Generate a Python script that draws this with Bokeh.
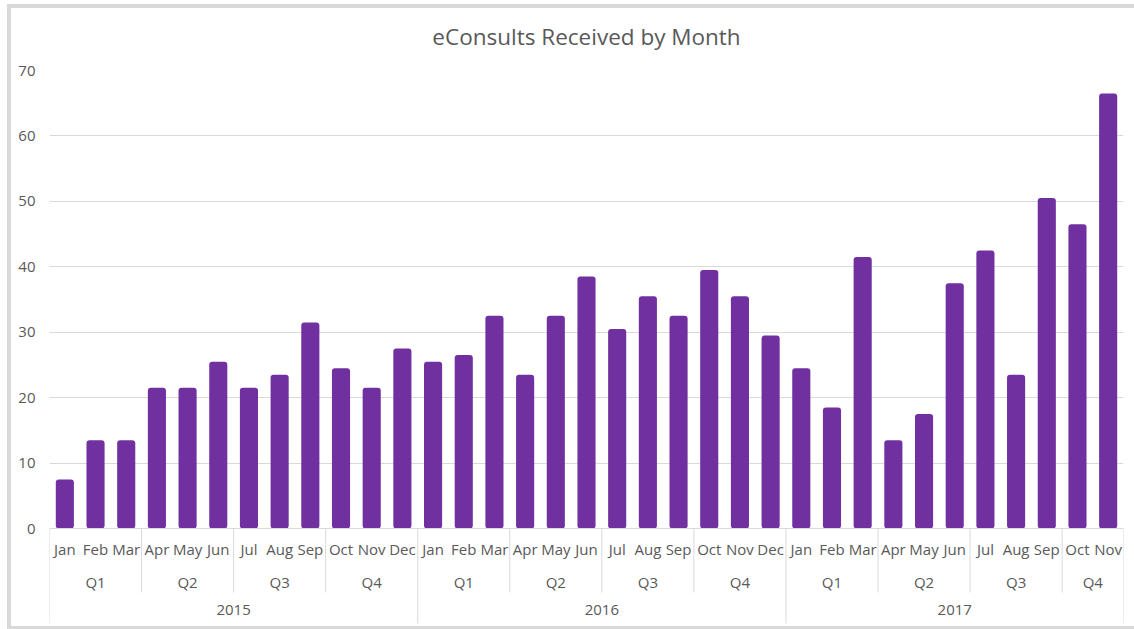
from bokeh.plotting import figure
from bokeh.models import FactorRange, Range1d, FixedTicker, Title
from bokeh.embed import file_html
from bokeh.resources import INLINE

title_text = "eConsults Received by Month"
years = ["2015", "2016", "2017"]
months = ["Jan", "Feb", "Mar", "Apr", "May", "Jun",
          "Jul", "Aug", "Sep", "Oct", "Nov", "Dec"]
quarter_of_month = ["Q1", "Q1", "Q1", "Q2", "Q2", "Q2",
                    "Q3", "Q3", "Q3", "Q4", "Q4", "Q4"]
values_2015 = [7.5, 13.5, 13.5, 21.5, 21.5, 25.5, 21.5, 23.5, 31.5, 24.5, 21.5, 27.5]
values_2016 = [25.5, 26.5, 32.5, 23.5, 32.5, 38.5, 30.5, 35.5, 32.5, 39.5, 35.5, 29.5]
values_2017 = [24.5, 18.5, 41.5, 13.5, 17.5, 37.5, 42.5, 23.5, 50.5, 46.5, 66.5]
y_ticks = [0, 10, 20, 30, 40, 50, 60, 70]

BAR = "#7030A0"
GRID = "#D9D9D9"
TEXT = "#595959"
FONT = "Open Sans"

PLOT_H = 458          # pixels from value 0 to value 70
LABEL_H = 98          # pixels of the category-label band below the axis
Y_MAX = 70
px_to_data = Y_MAX / PLOT_H

factors = []
values = []
for yr, vals in zip(years, [values_2015, values_2016, values_2017]):
    for i, v in enumerate(vals):
        factors.append((yr, quarter_of_month[i], months[i]))
        values.append(v)

x_range = FactorRange(*factors, factor_padding=0, subgroup_padding=0,
                      group_padding=0, range_padding=0)

p = figure(x_range=x_range, y_range=Range1d(-LABEL_H * px_to_data, Y_MAX),
           frame_width=1074, frame_height=PLOT_H + LABEL_H,
           min_border_left=38, min_border_right=11,
           min_border_top=62, min_border_bottom=0,
           output_backend="svg", toolbar_location=None,
           title=None)
p.styles = {"border-left": "4px solid #D9D9D9",
            "border-top": "4px solid #D9D9D9",
            "border-bottom": "3px solid #D9D9D9",
            "margin-left": "7px", "margin-top": "4px"}

# invisible spacer between the frame and the title
p.add_layout(Title(text=" ", text_font=FONT, text_font_size="10px",
                   standoff=3), "above")
p.add_layout(Title(text=title_text, align="center", vertical_align="bottom",
                   text_font=FONT, text_font_size="22.5px",
                   text_font_style="normal", text_color=TEXT, standoff=0),
             "above")

p.vbar(x=factors, top=values, width=0.59, fill_color=BAR, line_color=None,
       border_radius=3)

# separator lines below the axis (quarter and year boundaries)
sep_x, sep_y1 = [], []
for i, f in enumerate(factors + [None]):
    prev = factors[i - 1] if i > 0 else None
    if prev is None or f is None or f[0] != prev[0]:
        sep_x.append(i)
        sep_y1.append(-95 * px_to_data)
    elif f[1] != prev[1]:
        sep_x.append(i)
        sep_y1.append(-64 * px_to_data)
p.segment(x0=sep_x, y0=[0] * len(sep_x), x1=sep_x, y1=sep_y1,
          line_color=GRID, line_width=1)

p.outline_line_color = None
p.xgrid.grid_line_color = None
p.ygrid.grid_line_color = GRID
p.ygrid.grid_line_width = 1

ya = p.yaxis[0]
ya.ticker = FixedTicker(ticks=y_ticks)
ya.axis_line_color = None
ya.major_tick_line_color = None
ya.minor_tick_line_color = None
ya.major_tick_out = 0
ya.major_label_standoff = 14
ya.major_label_text_color = TEXT
ya.major_label_text_font = FONT
ya.major_label_text_font_size = "15px"

xa = p.xaxis[0]
xa.fixed_location = 0
xa.axis_line_color = GRID
xa.major_tick_line_color = None
xa.minor_tick_line_color = None
xa.major_tick_out = 0
xa.major_label_standoff = 10
xa.major_label_text_color = TEXT
xa.major_label_text_font = FONT
xa.major_label_text_font_size = "15px"
xa.subgroup_text_color = TEXT
xa.subgroup_text_font = FONT
xa.subgroup_text_font_size = "15px"
xa.subgroup_text_font_style = "normal"
xa.group_text_color = TEXT
xa.group_text_font = FONT
xa.group_text_font_size = "15px"
xa.group_text_font_style = "normal"
xa.separator_line_color = None

open("out.html", "w").write(file_html(p, INLINE))
